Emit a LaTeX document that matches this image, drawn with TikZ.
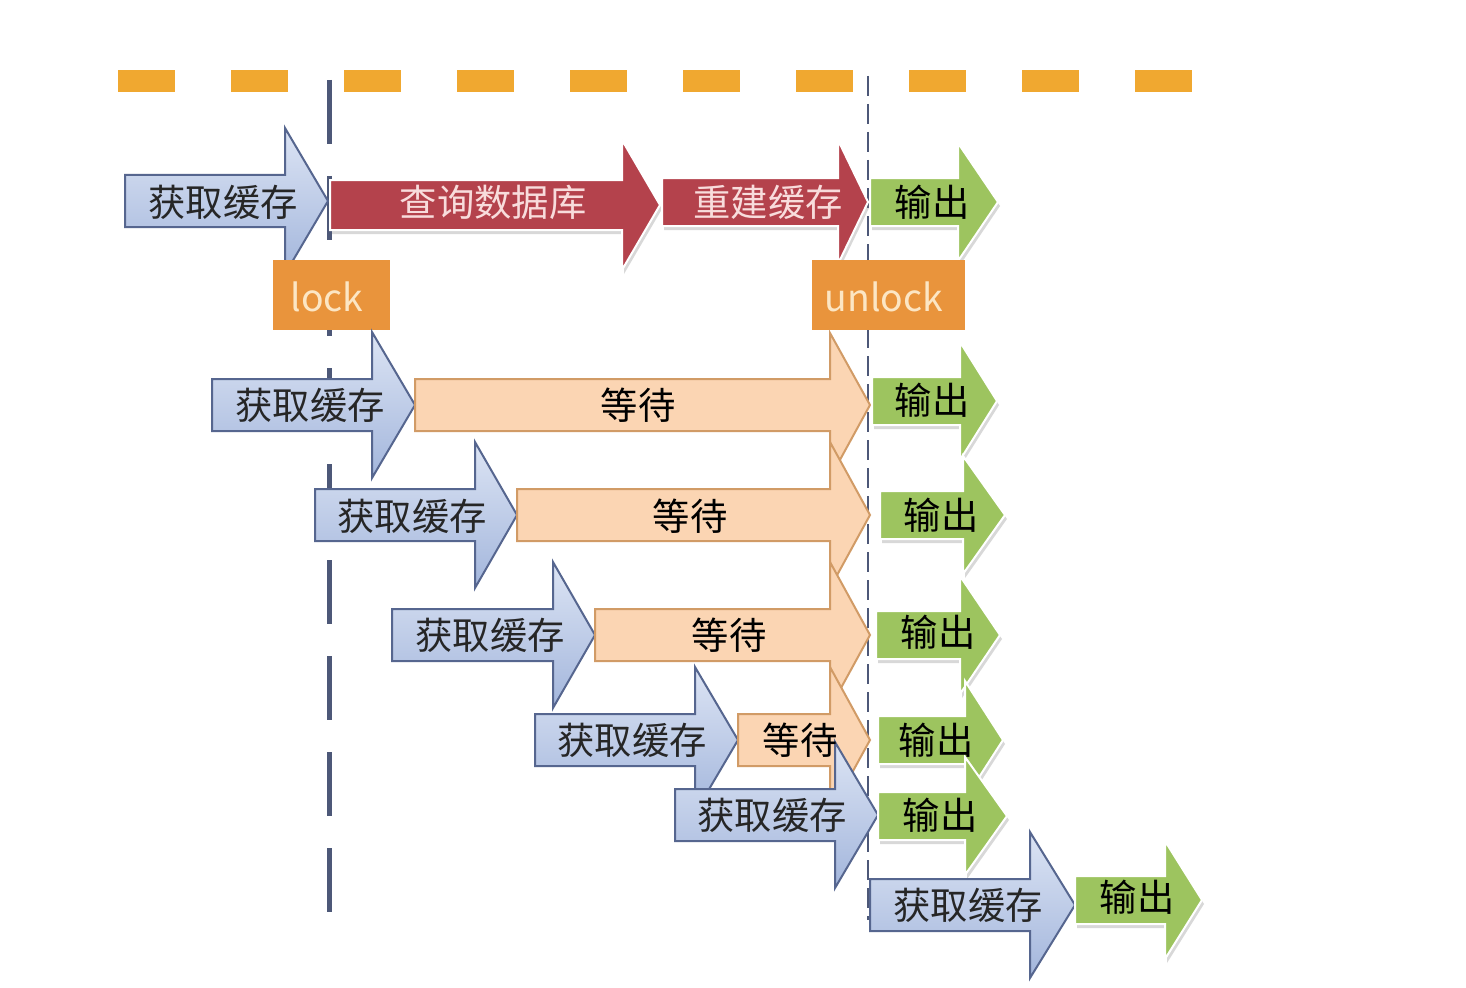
\documentclass[tikz,border=0pt]{standalone}
\usepackage{fontspec}
\setmainfont{Noto Sans CJK SC}
\usetikzlibrary{shadows}

\definecolor{dashorange}{HTML}{F0A830}
\definecolor{lockfill}{HTML}{E9943C}
\definecolor{locktext}{HTML}{FCE6C4}
\definecolor{getline}{HTML}{56668F}
\definecolor{gettop}{HTML}{DCE4F4}
\definecolor{getbottom}{HTML}{A3B6DC}
\definecolor{dbfill}{HTML}{B4424C}
\definecolor{dbtext}{HTML}{F8DCDC}
\definecolor{waitfill}{HTML}{FBD5B3}
\definecolor{waitline}{HTML}{D19B66}
\definecolor{outfill}{HTML}{9DC45F}
\definecolor{timeline}{HTML}{4D5878}

\tikzset{every picture/.style={line width=0.75pt}}
\tikzset{
  getarrow/.style={draw=getline, line width=1.5pt, top color=gettop, bottom color=getbottom},
  waitarrow/.style={draw=waitline, line width=1.5pt, fill=waitfill},
  dbarrow/.style={draw=white, line width=1.5pt, fill=dbfill, drop shadow={shadow xshift=1.5pt, shadow yshift=-3pt, opacity=0.3}},
  outarrow/.style={draw=white, line width=1.5pt, fill=outfill, drop shadow={shadow xshift=1.5pt, shadow yshift=-3pt, opacity=0.3}},
  lockbox/.style={fill=lockfill, draw=none},
  lbl/.style={inner sep=0.75pt, font=\fontsize{28}{32}\selectfont},
}

\begin{document}
\begin{tikzpicture}[x=0.75pt,y=0.75pt,yscale=-1,xscale=1]
\useasboundingbox (0,0) rectangle (1466,988);
\fill[white] (0,0) rectangle (1466,988);

%Straight Lines [orange dashes]
\draw [dashorange, line width=17pt, dash pattern={on 42.75pt off 42pt}]  (118,81) -- (1192,81) ;
%Straight Lines [lock time]
\draw [timeline, line width=3.75pt, dash pattern={on 48pt off 24pt}]  (329,80) -- (329,912) ;
%Straight Lines [unlock time]
\draw [timeline, line width=1.8pt, dash pattern={on 15pt off 6pt}]  (868,76) -- (868,920) ;

%Shape: Right Arrow [get 1]
\draw [getarrow]  (125,175) -- (285,175) -- (285,128) -- (328,201) -- (285,274) -- (285,227) -- (125,227) -- cycle ;
%Shape: Right Arrow [query db]
\draw [dbarrow]  (330,180) -- (622,180) -- (622,140) -- (660,205) -- (622,270) -- (622,230) -- (330,230) -- cycle ;
%Shape: Right Arrow [rebuild]
\draw [dbarrow]  (662,178) -- (838,178) -- (838,140) -- (868,202) -- (838,264) -- (838,226) -- (662,226) -- cycle ;
%Shape: Right Arrow [out 1]
\draw [outarrow]  (870,178) -- (958,178) -- (958,143) -- (998,202) -- (958,261) -- (958,226) -- (870,226) -- cycle ;

%Shape: Rectangle [lock]
\fill [lockbox]  (273,260) rectangle (390,330) ;
%Shape: Rectangle [unlock]
\fill [lockbox]  (812,260) rectangle (965,330) ;

%Shape: Right Arrow [get 2]
\draw [getarrow]  (212,379) -- (372,379) -- (372,332) -- (415,405) -- (372,478) -- (372,431) -- (212,431) -- cycle ;
%Shape: Right Arrow [wait 2]
\draw [waitarrow]  (415,379) -- (830,379) -- (830,333) -- (870,405) -- (830,478) -- (830,431) -- (415,431) -- cycle ;
%Shape: Right Arrow [out 2]
\draw [outarrow]  (872,377) -- (960,377) -- (960,342) -- (997,401) -- (960,460) -- (960,425) -- (872,425) -- cycle ;

%Shape: Right Arrow [get 3]
\draw [getarrow]  (315,489) -- (475,489) -- (475,442) -- (517,515) -- (475,588) -- (475,541) -- (315,541) -- cycle ;
%Shape: Right Arrow [wait 3]
\draw [waitarrow]  (517,489) -- (830,489) -- (830,442) -- (870,515) -- (830,588) -- (830,541) -- (517,541) -- cycle ;
%Shape: Right Arrow [out 3]
\draw [outarrow]  (880,491) -- (963,491) -- (963,456) -- (1005,515) -- (963,574) -- (963,539) -- (880,539) -- cycle ;

%Shape: Right Arrow [get 4]
\draw [getarrow]  (392,609) -- (553,609) -- (553,562) -- (595,635) -- (553,708) -- (553,661) -- (392,661) -- cycle ;
%Shape: Right Arrow [wait 4]
\draw [waitarrow]  (595,609) -- (830,609) -- (830,562) -- (870,635) -- (830,708) -- (830,661) -- (595,661) -- cycle ;
%Shape: Right Arrow [out 4]
\draw [outarrow]  (876,611) -- (960,611) -- (960,576) -- (1000,635) -- (960,694) -- (960,659) -- (876,659) -- cycle ;

%Shape: Right Arrow [get 5]
\draw [getarrow]  (535,714) -- (695,714) -- (695,667) -- (738,740) -- (695,813) -- (695,766) -- (535,766) -- cycle ;
%Shape: Right Arrow [wait 5]
\draw [waitarrow]  (738,714) -- (830,714) -- (830,667) -- (870,740) -- (830,813) -- (830,766) -- (738,766) -- cycle ;
%Shape: Right Arrow [out 5]
\draw [outarrow]  (878,716) -- (965,716) -- (965,681) -- (1003,740) -- (965,799) -- (965,764) -- (878,764) -- cycle ;

%Shape: Right Arrow [get 6]
\draw [getarrow]  (675,789) -- (835,789) -- (835,742) -- (878,815) -- (835,888) -- (835,841) -- (675,841) -- cycle ;
%Shape: Right Arrow [out 6]
\draw [outarrow]  (878,792) -- (965,792) -- (965,757) -- (1007,816) -- (965,875) -- (965,840) -- (878,840) -- cycle ;

%Shape: Right Arrow [get 7]
\draw [getarrow]  (870,879) -- (1030,879) -- (1030,832) -- (1075,905) -- (1030,978) -- (1030,931) -- (870,931) -- cycle ;
%Shape: Right Arrow [out 7]
\draw [outarrow]  (1075,876) -- (1165,876) -- (1165,841) -- (1202,900) -- (1165,959) -- (1165,924) -- (1075,924) -- cycle ;

% Text Node
\node [lbl, text=black!85] (get1) at (223,202) {获取缓存};
\node [lbl, text=black!85] (get2) at (310,405) {获取缓存};
\node [lbl, text=black!85] (get3) at (412,516) {获取缓存};
\node [lbl, text=black!85] (get4) at (490,635) {获取缓存};
\node [lbl, text=black!85] (get5) at (632,740) {获取缓存};
\node [lbl, text=black!85] (get6) at (772,815) {获取缓存};
\node [lbl, text=black!85] (get7) at (968,905) {获取缓存};
% Text Node
\node [lbl, text=dbtext] (query) at (493,202) {查询数据库};
\node [lbl, text=dbtext] (rebuild) at (768,202) {重建缓存};
% Text Node
\node [lbl] (wait2) at (638,405) {等待};
\node [lbl] (wait3) at (690,516) {等待};
\node [lbl] (wait4) at (729,635) {等待};
\node [lbl] (wait5) at (800,740) {等待};
% Text Node
\node [lbl] (out1) at (932,202) {输出};
\node [lbl] (out2) at (932,400) {输出};
\node [lbl] (out3) at (941,515) {输出};
\node [lbl] (out4) at (938,632) {输出};
\node [lbl] (out5) at (936,740) {输出};
\node [lbl] (out6) at (940,815) {输出};
\node [lbl] (out7) at (1137,897) {输出};
% Text Node
\node [lbl, text=locktext] (lock) at (327,297) {lock};
\node [lbl, text=locktext] (unlock) at (884,297) {unlock};

\end{tikzpicture}
\end{document}
